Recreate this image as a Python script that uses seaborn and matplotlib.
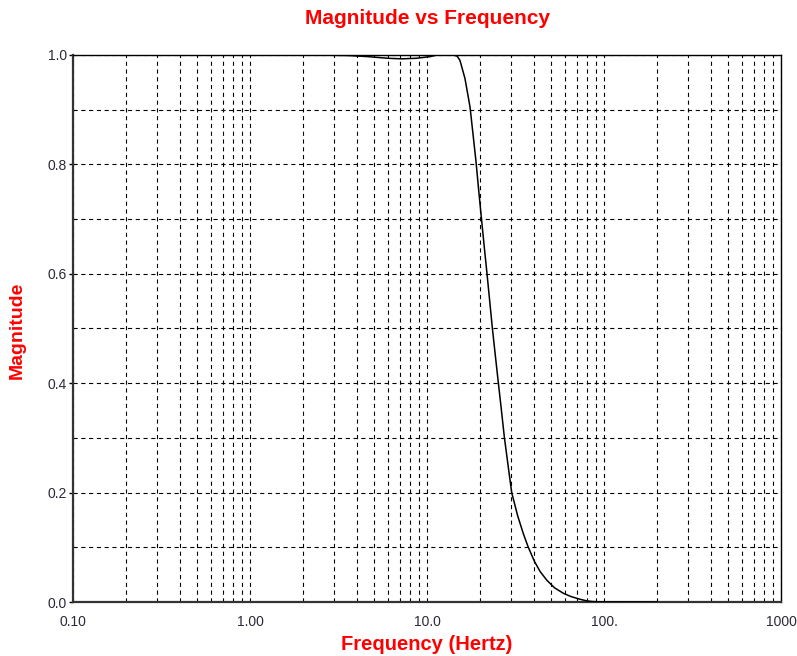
import numpy as np
import pandas as pd
import matplotlib
matplotlib.use("Agg")
import matplotlib.pyplot as plt
import matplotlib.ticker as mticker
import seaborn as sns

# Data (frequency in Hz, magnitude)
freq = [2.4, 3.6, 4.66, 6.0, 7.2, 8.7, 10.4, 11.4, 14.0, 14.8, 15.36, 16.39, 17.5,
        18.2, 18.92, 19.6, 20.29, 21.02, 21.8, 22.58, 23.38, 24.3, 25.27, 26.3,
        27.34, 28.7, 30.1, 32.5, 35.0, 37.35, 40.5, 43.5, 47.47, 52.5, 58.9,
        65.0, 73.2, 80.0, 86.7, 100.0, 200.0]
magnitude = [1.0, 0.999, 0.997, 0.994, 0.993, 0.994, 0.997, 1.0, 1.0, 0.998, 0.99,
             0.957, 0.905, 0.855, 0.805, 0.752, 0.702, 0.652, 0.602, 0.552,
             0.502, 0.452, 0.402, 0.352, 0.302, 0.25, 0.2, 0.158, 0.125, 0.1,
             0.074, 0.056, 0.04, 0.026, 0.016, 0.01, 0.005, 0.002, 0.0008,
             0.0001, 0.0]
x_tick_values = [0.1, 1.0, 10.0, 100.0, 1000.0]
x_tick_labels = ["0.10", "1.00", "10.0", "100.", "1000"]
y_tick_values = [0.0, 0.2, 0.4, 0.6, 0.8, 1.0]
y_tick_labels = ["0.0", "0.2", "0.4", "0.6", "0.8", "1.0"]

df = pd.DataFrame({"Frequency": freq, "Magnitude": magnitude})

sns.set_theme(style="white")
plt.rcParams["font.family"] = ["Liberation Sans", "DejaVu Sans"]
plt.rcParams["lines.scale_dashes"] = False

fig = plt.figure(figsize=(7.97, 6.56), dpi=100)
ax = fig.add_axes([73 / 797, 1 - 602 / 656, (781 - 73) / 797, (602 - 55) / 656])

ax.set_xscale("log")
ax.set_xlim(0.1, 1000)
ax.set_ylim(0, 1)

ax.xaxis.set_major_locator(mticker.FixedLocator(x_tick_values))
ax.xaxis.set_major_formatter(mticker.FixedFormatter(x_tick_labels))
ax.xaxis.set_minor_locator(mticker.LogLocator(base=10, subs=np.arange(2, 10), numticks=20))
ax.xaxis.set_minor_formatter(mticker.NullFormatter())
ax.yaxis.set_major_locator(mticker.FixedLocator(y_tick_values))
ax.yaxis.set_major_formatter(mticker.FixedFormatter(y_tick_labels))
ax.yaxis.set_minor_locator(mticker.MultipleLocator(0.1))

ax.grid(which="both", color="black", linestyle=(0, (3, 2.6)), linewidth=0.8)
ax.set_axisbelow(True)

sns.lineplot(data=df, x="Frequency", y="Magnitude", ax=ax, color="black",
             linewidth=1.1, zorder=5)

for side in ["top", "right"]:
    ax.spines[side].set_color("black")
    ax.spines[side].set_linewidth(1.0)
for side in ["left", "bottom"]:
    ax.spines[side].set_color("#333333")
    ax.spines[side].set_linewidth(1.6)

tick_color = "#2a2a3a"
ax.tick_params(axis="x", which="major", length=0, pad=9, labelsize=10, labelcolor=tick_color)
ax.tick_params(axis="x", which="minor", length=0)
ax.tick_params(axis="y", which="major", direction="out", length=3, width=1, color="black",
               pad=1.5, labelsize=10, labelcolor=tick_color, left=True)
ax.tick_params(axis="y", which="minor", length=0)

ax.set_xlabel("")
ax.set_ylabel("")
fig.text(427 / 797, 1 - 644 / 656, "Frequency (Hertz)", color="red", fontsize=14.5,
         fontweight="bold", ha="center", va="center")
fig.text(17 / 797, 1 - 330 / 656, "Magnitude", color="red", fontsize=14,
         fontweight="bold", ha="center", va="center", rotation=90)
fig.text(427 / 797, 1 - 18 / 656, "Magnitude vs Frequency", color="red",
         fontsize=15, fontweight="bold", ha="center", va="center")

fig.savefig("out.png", dpi=100)
